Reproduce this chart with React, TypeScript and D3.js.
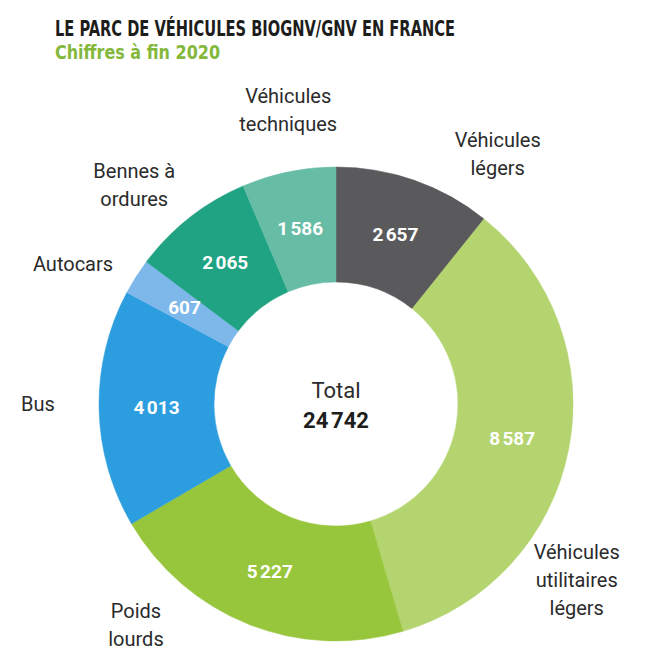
import React from 'react';
import * as d3 from 'd3';

// Parc de véhicules BioGNV/GNV, fin 2020
const categories = [
  'Véhicules légers',
  'Véhicules utilitaires légers',
  'Poids lourds',
  'Bus',
  'Autocars',
  'Bennes à ordures',
  'Véhicules techniques',
];
const labelLines = [
  ['Véhicules', 'légers'],
  ['Véhicules', 'utilitaires', 'légers'],
  ['Poids', 'lourds'],
  ['Bus'],
  ['Autocars'],
  ['Bennes à', 'ordures'],
  ['Véhicules', 'techniques'],
];
const values = [2657, 8587, 5227, 4013, 607, 2065, 1586];
const colors = ['#5a595c', '#b3d46e', '#97c63c', '#2c9ddf', '#7eb7ea', '#1fa383', '#67bca6'];

const title = 'LE PARC DE VÉHICULES BIOGNV/GNV EN FRANCE';
const subtitle = 'Chiffres à fin 2020';

const W = 648;
const H = 652;
const cx = 336;
const cy = 404;
const outerR = 237;
const innerR = 122;
const labelR = 298;

// where along each slice (0 = start, 1 = end) the outside label sits
const labelT = [0.85, 0.7, 0.77, 0.52, 0.0, 0.35, 0.6];

const fr = d3.formatLocale({ decimal: ',', thousands: '\u202F', grouping: [3], currency: ['', ' €'] });
const fmt = fr.format(',d');

const labelFont = 'Roboto, "DejaVu Sans", sans-serif';

export default function App() {
  const rows = categories.map((c, i) => ({ name: c, value: values[i], color: colors[i], lines: labelLines[i], t: labelT[i] }));
  const pie = d3.pie<any>().value(d => d.value).sort(null).startAngle(0).endAngle(2 * Math.PI);
  const arcs = pie(rows);
  const arc = d3.arc<any>().innerRadius(innerR).outerRadius(outerR);
  const total = d3.sum(values);
  const lh = 28;

  return (
    <svg width={W} height={H} style={{ position: 'absolute', left: 0, top: 0, background: '#fff' }}>
      <text x={55} y={36} fontFamily='"DejaVu Sans Condensed", "Liberation Sans Narrow", Roboto, sans-serif' fontWeight={700}
        fontSize={21} fill="#1d1d1b" textLength={400} lengthAdjust="spacingAndGlyphs">{title}</text>
      <text x={55} y={59} fontFamily='"DejaVu Sans Condensed", "Liberation Sans Narrow", Roboto, sans-serif' fontWeight={700}
        fontSize={20} fill="#84b83c" textLength={165} lengthAdjust="spacingAndGlyphs">{subtitle}</text>

      <g transform={`translate(${cx},${cy})`}>
        {arcs.map(a => (
          <path key={a.data.name} d={arc(a) || ''} fill={a.data.color} stroke={a.data.color} strokeWidth={0.5} />
        ))}
        {arcs.map(a => {
          const [x, y] = arc.centroid(a);
          return (
            <text key={'v' + a.data.name} x={x} y={y} dy="0.35em" textAnchor="middle" fill="#fff"
              fontFamily={labelFont} fontWeight={700} fontSize={19}>{fmt(a.data.value)}</text>
          );
        })}
        {arcs.map(a => {
          const ang = a.startAngle + a.data.t * (a.endAngle - a.startAngle);
          const x = Math.sin(ang) * labelR;
          const y = -Math.cos(ang) * labelR;
          const n = a.data.lines.length;
          return (
            <text key={'l' + a.data.name} textAnchor="middle" fill="#2b2b2b" fontFamily={labelFont} fontSize={20}>
              {a.data.lines.map((ln: string, k: number) => (
                <tspan key={k} x={x} y={y - ((n - 1) * lh) / 2 + k * lh} dy="0.35em">{ln}</tspan>
              ))}
            </text>
          );
        })}
        <text x={0} y={-14} dy="0.35em" textAnchor="middle" fill="#2b2b2b" fontFamily={labelFont} fontSize={22}>Total</text>
        <text x={0} y={16} dy="0.35em" textAnchor="middle" fill="#1d1d1b" fontFamily={labelFont} fontWeight={700} fontSize={22}>{fmt(total)}</text>
      </g>
    </svg>
  );
}
